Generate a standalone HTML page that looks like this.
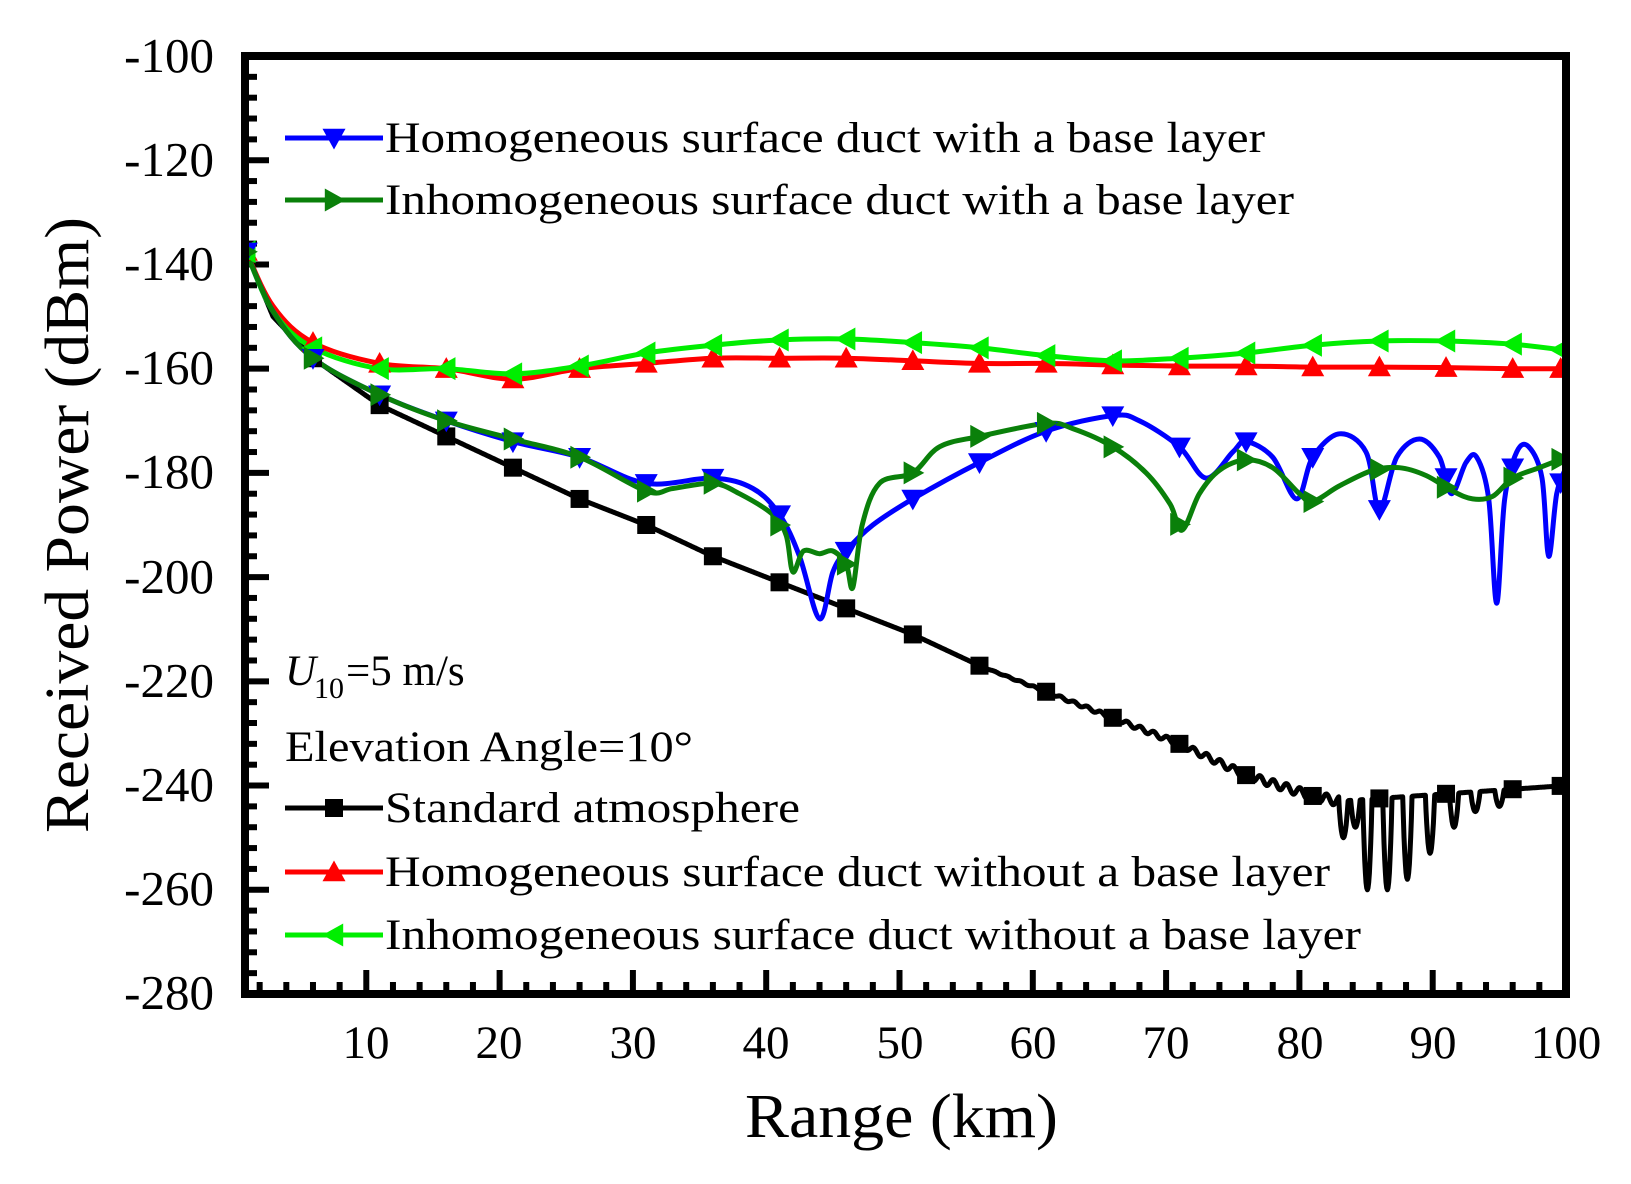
<!DOCTYPE html>
<html><head><meta charset="utf-8"><style>
html,body{margin:0;padding:0;background:#fff;}
svg{display:block;}
text{font-family:"Liberation Serif","DejaVu Serif",serif;fill:#000;}
</style></head><body>
<svg id="s" width="1631" height="1184" viewBox="0 0 1631 1184" xmlns="http://www.w3.org/2000/svg">
<defs><clipPath id="cp"><rect x="245" y="56" width="1321" height="938"/></clipPath></defs>
<g id="ticks"></g>
<g id="series" clip-path="url(#cp)"></g>
<rect x="245" y="56" width="1321" height="938" fill="none" stroke="#000" stroke-width="8"/>
<g font-size="49" text-anchor="end">
<text x="214" y="72">-100</text><text x="214" y="176">-120</text><text x="214" y="280">-140</text>
<text x="214" y="384">-160</text><text x="214" y="488">-180</text><text x="214" y="593">-200</text>
<text x="214" y="697">-220</text><text x="214" y="801">-240</text><text x="214" y="905">-260</text>
<text x="214" y="1009">-280</text>
</g>
<g font-size="47" text-anchor="middle">
<text x="366" y="1058">10</text><text x="499" y="1058">20</text><text x="633" y="1058">30</text>
<text x="766" y="1058">40</text><text x="900" y="1058">50</text><text x="1033" y="1058">60</text>
<text x="1166" y="1058">70</text><text x="1300" y="1058">80</text><text x="1433" y="1058">90</text>
<text x="1566" y="1058">100</text>
</g>
<text x="745" y="1137" font-size="62" textLength="313" lengthAdjust="spacingAndGlyphs">Range (km)</text>
<text transform="translate(88,833) rotate(-90)" font-size="62" textLength="616" lengthAdjust="spacingAndGlyphs">Received Power (dBm)</text>
<g id="legend"></g>
<g font-size="43">
<text x="385" y="152" textLength="880" lengthAdjust="spacingAndGlyphs">Homogeneous surface duct with a base layer</text>
<text x="385" y="214" textLength="909" lengthAdjust="spacingAndGlyphs">Inhomogeneous surface duct with a base layer</text>
<text x="285" y="685" font-style="italic">U</text><text x="314" y="698" font-size="30">10</text><text x="346" y="685">=5 m/s</text>
<text x="285" y="761" textLength="408" lengthAdjust="spacingAndGlyphs">Elevation Angle=10°</text>
<text x="385" y="822" textLength="415" lengthAdjust="spacingAndGlyphs">Standard atmosphere</text>
<text x="385" y="886" textLength="945" lengthAdjust="spacingAndGlyphs">Homogeneous surface duct without a base layer</text>
<text x="385" y="949" textLength="976" lengthAdjust="spacingAndGlyphs">Inhomogeneous surface duct without a base layer</text>
</g>
</svg>
<script>
const NS="http://www.w3.org/2000/svg";
const X=v=>233+13.33*v, Y=v=>56+(-100-v)*5.211;
function el(t,a,p){const e=document.createElementNS(NS,t);for(const k in a)e.setAttribute(k,a[k]);p.appendChild(e);return e;}
const tk=document.getElementById('ticks');
for(let v=-100;v>=-280;v-=4){const maj=(v%20===0);el('line',{x1:245,x2:245+(maj?24:12),y1:Y(v),y2:Y(v),stroke:'#000','stroke-width':6},tk);}
for(let v=2;v<=100;v+=2){const maj=(v%10===0);el('line',{x1:X(v),x2:X(v),y1:994,y2:994-(maj?24:12),stroke:'#000','stroke-width':6},tk);}
function interp(pts,xv){for(let i=0;i<pts.length-1;i++){if(xv>=pts[i][0]&&xv<=pts[i+1][0]){const t=(xv-pts[i][0])/(pts[i+1][0]-pts[i][0]);return pts[i][1]+t*(pts[i+1][1]-pts[i][1]);}}return pts[pts.length-1][1];}
function smooth(pts){let d='M'+X(pts[0][0]).toFixed(1)+','+Y(pts[0][1]).toFixed(1);
 for(let i=0;i<pts.length-1;i++){const p0=pts[Math.max(0,i-1)],p1=pts[i],p2=pts[i+1],p3=pts[Math.min(pts.length-1,i+2)];
  const c1x=X(p1[0])+(X(p2[0])-X(p0[0]))/6,c1y=Y(p1[1])+(Y(p2[1])-Y(p0[1]))/6;
  const c2x=X(p2[0])-(X(p3[0])-X(p1[0]))/6,c2y=Y(p2[1])-(Y(p3[1])-Y(p1[1]))/6;
  d+=`C${c1x.toFixed(1)},${c1y.toFixed(1)} ${c2x.toFixed(1)},${c2y.toFixed(1)} ${X(p2[0]).toFixed(1)},${Y(p2[1]).toFixed(1)}`;}
 return d;}
function marker(type,cx,cy,col,g){const s=11.5;let pts;
 if(type==='sq'){el('rect',{x:cx-9,y:cy-9,width:18,height:18,fill:col},g);return;}
 if(type==='up')pts=[[cx,cy-s],[cx-s,cy+s*0.8],[cx+s,cy+s*0.8]];
 if(type==='down')pts=[[cx,cy+s],[cx-s,cy-s*0.8],[cx+s,cy-s*0.8]];
 if(type==='right')pts=[[cx+s,cy],[cx-s*0.8,cy-s],[cx-s*0.8,cy+s]];
 if(type==='left')pts=[[cx-s,cy],[cx+s*0.8,cy-s],[cx+s*0.8,cy+s]];
 el('polygon',{points:pts.map(p=>p.join(',')).join(' '),fill:col},g);}
const S=document.getElementById('series');
let blk=[[0.9,-137],[3,-150],[6,-158],[11,-167],[16,-173],[21,-179],[26,-185],[31,-190],[36,-196],[41,-201],[46,-206],[51,-211],[56,-217],[61,-222],[66,-227],[71,-232],[76,-238],[81,-242],[83,-243],[100,-240]];
const dips=[[83.3,-250],[84.2,-248],[85.1,-260],[86.6,-260],[88.1,-258],[89.8,-253],[91.6,-248],[93.2,-245],[95,-244]];
let blkPts=[];
for(let x=0.9;x<=100.01;x+=0.05){let y=interp(blk,x);
 if(x>55&&x<83) y+=Math.sin(x*6.3)*0.9*(x-55)/27;
 for(const [dx,dy] of dips){const w=0.35;const d=(x-dx)/w;if(Math.abs(d)<1){const base=interp(blk,dx);y=Math.min(y,base+(dy-base)*(1-d*d));}}
 blkPts.push([x,y]);}
function poly(pts,col,w){el('path',{d:'M'+pts.map(p=>X(p[0]).toFixed(1)+','+Y(p[1]).toFixed(1)).join('L'),fill:'none',stroke:col,'stroke-width':w,'stroke-linejoin':'round'},S);}
poly(blkPts,'#000',5);
const red=[[0.9,-137],[3,-148],[6,-155],[11,-159],[16,-160],[21,-162],[26,-160],[31,-159],[36,-158],[41,-158],[46,-158],[51,-158.5],[56,-159],[61,-159],[66,-159.3],[71,-159.5],[76,-159.5],[81,-159.7],[86,-159.7],[91,-159.8],[96,-160],[100,-160]];
const lime=[[0.9,-137],[3,-149],[6,-156],[11,-160],[16,-160],[21,-161],[26,-159.5],[31,-157],[36,-155.5],[41,-154.5],[46,-154.3],[51,-155],[56,-156],[61,-157.5],[66,-158.5],[71,-158],[76,-157],[81,-155.5],[86,-154.7],[91,-154.7],[96,-155.3],[100,-156.5]];
const blue=[[0.9,-137],[3,-149],[6,-158],[11,-165],[16,-170],[21,-174],[26,-177],[31,-182],[36,-181],[39,-183],[41,-188],[42.5,-196],[44,-208],[45,-199],[46,-195],[48,-190],[51,-185],[56,-178],[61,-172],[66,-169],[68,-170],[71,-175],[73,-181],[75,-176],[76,-174],[78,-177],[79.8,-185],[81,-177],[83,-172.5],[85,-176],[86,-187],[87.3,-177],[89,-173.5],[90.5,-177],[91.4,-184],[92.5,-178],[93.3,-177],[94.2,-185],[94.8,-205],[95.4,-185],[96.3,-176],[97.2,-175],[98.2,-181],[98.7,-196],[99.3,-184],[100,-179]];
const dg=[[0.9,-137],[3,-149],[6,-158],[11,-165],[16,-170],[21,-173.5],[26,-177],[31,-183.5],[33,-183],[36,-182],[38,-184],[40.5,-188],[41.5,-192],[42,-199],[42.8,-195],[44,-195.5],[45,-195],[46,-197.5],[46.5,-202],[47.2,-190],[48.5,-182],[51,-180],[53,-175],[56,-173],[61,-170.5],[63,-171.5],[66,-175],[68.5,-180],[70.3,-186],[71.2,-191],[72.5,-184],[74,-179.5],[76,-177.5],[78,-179],[80,-184],[81,-185.5],[83,-182.5],[85.5,-179.5],[87.5,-179],[89.5,-180.5],[91.5,-183.5],[93,-185],[94.5,-184.5],[96,-181],[98,-179],[100,-177]];
const series=[[red,'#ff0000','up'],[lime,'#00ee00','left'],[blue,'#0000ff','down'],[dg,'#0a800a','right']];
for(const [pts,col] of series){el('path',{d:smooth(pts),fill:'none',stroke:col,'stroke-width':5},S);}
const mk=[[blkPts,'#000','sq'],...series];
for(const [pts,col,t] of mk){for(let x=1;x<=101;x+=5){let xx=Math.min(x,99.6);let y;
 if(pts===blkPts){y=interp(blk,xx);}
 else y=interp(pts,xx);
 marker(t,X(xx),Y(y),col,S);}}
const L=document.getElementById('legend');
const leg=[[138,'#0000ff','down'],[200,'#0a800a','right'],[808,'#000','sq'],[872,'#ff0000','up'],[935,'#00ee00','left']];
for(const [y,col,t] of leg){el('line',{x1:285,x2:383,y1:y,y2:y,stroke:col,'stroke-width':5},L);marker(t,334,y,col,L);}
</script>
</body></html>
